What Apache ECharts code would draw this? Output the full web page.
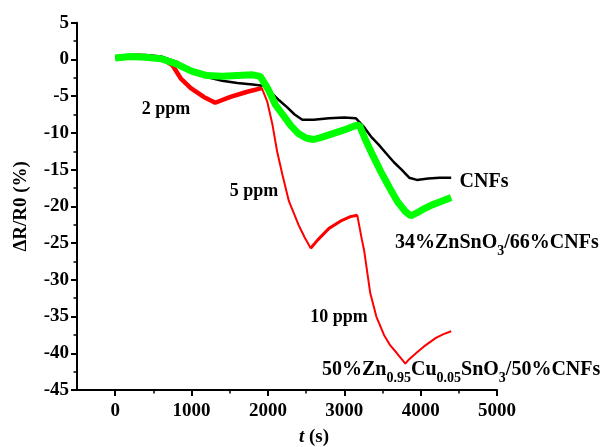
<!DOCTYPE html>
<html><head><meta charset="utf-8">
<script src="https://cdn.jsdelivr.net/npm/echarts@6/dist/echarts.min.js"></script>
<style>html,body{margin:0;padding:0;background:#fff}#c{width:606px;height:447px}</style>
</head><body><div id="c"></div>
<script>
// ---- data ----
const xTicks = [0, 1000, 2000, 3000, 4000, 5000];
const xMinorTicks = [500, 1500, 2500, 3500, 4500];

const cnfsT = [0,200,400,600,800,1000,1200,1400,1600,1800,1950,2050,2150,2250,2350,2450,2600,2800,3000,3150,3250,3350,3450,3550,3650,3750,3850,3950,4100,4250,4400];
const cnfsV = [0.3,0.6,0.6,0.4,-0.3,-1.5,-2.4,-2.9,-3.2,-3.4,-3.6,-4.6,-5.6,-6.5,-7.5,-8.2,-8.2,-8.0,-7.9,-8.0,-9.1,-10.5,-11.6,-12.8,-14.0,-15.0,-16.1,-16.4,-16.2,-16.1,-16.1];

const znT = [0,200,400,600,800,1000,1200,1400,1600,1800,1900,2000,2100,2200,2300,2400,2500,2600,2700,2850,3000,3150,3200,3280,3380,3480,3600,3700,3800,3870,3950,4050,4150,4250,4400];
const znV = [0.2,0.4,0.3,0.1,-0.6,-1.6,-2.2,-2.3,-2.2,-2.1,-2.3,-4.0,-6.2,-7.6,-9.0,-10.1,-10.7,-10.9,-10.6,-10.1,-9.6,-9.0,-9.0,-11.0,-13.2,-15.3,-17.6,-19.4,-20.7,-21.3,-20.9,-20.3,-19.8,-19.4,-18.8];

const cuT = [0,300,600,750,860,990,1160,1310,1510,1730,1920,1990,2060,2120,2190,2275,2400,2480,2560,2650,2800,2970,3080,3170,3230,3260,3340,3420,3520,3600,3690,3800,3850,3950,4040,4200,4300,4400];
const cuV = [0.3,0.5,0.2,-0.8,-2.6,-3.9,-5.1,-5.9,-5.1,-4.4,-3.9,-5.7,-8.9,-12.5,-15.7,-19.3,-22.5,-24.2,-25.7,-24.6,-23.0,-21.9,-21.4,-21.2,-24.5,-26.0,-31.8,-35.0,-37.5,-38.9,-40.0,-41.4,-40.8,-39.9,-39.1,-37.9,-37.4,-37.0];

const FONT = "'Liberation Serif','Times New Roman',serif";

function pairs(t, v) { return t.map((x, i) => [x, v[i]]); }
function within(t, v, a, b) { return t.map((x, i) => (x >= a && x <= b) ? [x, v[i]] : [x, null]); }

const chart = echarts.init(document.getElementById('c'), null, {renderer: 'canvas'});

const txt = (s, x, y, size) => ({
  type: 'text', x: x, y: y, z: 100,
  style: {text: s, fill: '#000', font: 'bold ' + size + 'px ' + FONT, align: 'center', verticalAlign: 'middle'}
});
const richM = {fontFamily: FONT, fontWeight: 'bold', fontSize: 20, lineHeight: 20, verticalAlign: 'top', fill: '#000', color: '#000'};
const richS = {fontFamily: FONT, fontWeight: 'bold', fontSize: 14, lineHeight: 14, padding: [11, 0, 0, 0], verticalAlign: 'top', fill: '#000', color: '#000'};
const plain = v => String(v);

chart.setOption({
  animation: false,
  backgroundColor: '#fff',
  grid: {left: 77, right: 109, top: 22.7, bottom: 57, outerBoundsMode: 'none'},
  xAxis: [{
    type: 'value', min: -500, max: 5000,
    axisLine: {show: true, onZero: false, lineStyle: {color: '#000', width: 2}},
    axisTick: {show: true, inside: false, length: 6, lineStyle: {color: '#000', width: 2}, customValues: xTicks},
    axisLabel: {customValues: xTicks, formatter: plain, margin: 12, color: '#000', fontSize: 19, fontWeight: 'bold', fontFamily: FONT},
    splitLine: {show: false}
  }, {
    type: 'value', min: -500, max: 5000, position: 'bottom',
    axisLine: {show: false, onZero: false},
    axisTick: {show: true, inside: false, length: 3.5, lineStyle: {color: '#000', width: 1.5}, customValues: xMinorTicks},
    axisLabel: {show: false},
    splitLine: {show: false}
  }],
  yAxis: {
    type: 'value', min: -45, max: 5, interval: 5,
    name: 'ΔR/R0 (%)', nameLocation: 'middle', nameRotate: 90, nameGap: 46,
    nameTextStyle: {color: '#000', fontSize: 19, fontWeight: 'bold', fontFamily: FONT},
    axisLine: {show: true, onZero: false, lineStyle: {color: '#000', width: 2}},
    axisTick: {show: true, inside: false, length: 6, lineStyle: {color: '#000', width: 2}},
    minorTick: {show: true, splitNumber: 2, length: 3.5, lineStyle: {color: '#000', width: 1.5}},
    axisLabel: {formatter: plain, margin: 8, color: '#000', fontSize: 19, fontWeight: 'bold', fontFamily: FONT},
    splitLine: {show: false}
  },
  graphic: [
    txt('2 ppm', 166, 109, 18),
    txt('5 ppm', 254, 191, 18),
    txt('10 ppm', 339, 317, 18),
    txt('CNFs', 484, 182, 20),
    {type: 'text', x: 395, y: 233, z: 100, style: {
      text: '{m|34%ZnSnO}{s|3}{m|/66%CNFs}', rich: {m: richM, s: richS}, fill: '#000'}},
    {type: 'text', x: 322, y: 360, z: 100, style: {
      text: '{m|50%Zn}{s|0.95}{m|Cu}{s|0.05}{m|SnO}{s|3}{m|/50%CNFs}', rich: {m: richM, s: richS}, fill: '#000'}},
    {type: 'text', x: 314, y: 437, z: 100, style: {
      text: '{i|t} {n|(s)}', align: 'center', verticalAlign: 'middle',
      rich: {
        i: {fontFamily: FONT, fontWeight: 'bold', fontStyle: 'italic', fontSize: 19, fill: '#000'},
        n: {fontFamily: FONT, fontWeight: 'bold', fontSize: 19, fill: '#000'}
      }, font: 'bold 19px ' + FONT, fill: '#000'}}
  ],
  series: [
    {name: 'red', type: 'line', showSymbol: false, data: pairs(cuT, cuV), lineStyle: {color: '#ff0000', width: 2}, z: 2},
    {name: 'redNoise1', type: 'line', showSymbol: false, connectNulls: false, data: within(cuT, cuV, 0, 1920), lineStyle: {color: '#ff0000', width: 4.5}, z: 2},
    {name: 'redNoise2', type: 'line', showSymbol: false, connectNulls: false, data: within(cuT, cuV, 2560, 3170), lineStyle: {color: '#ff0000', width: 3}, z: 2},
    {name: 'CNFs', type: 'line', showSymbol: false, data: pairs(cnfsT, cnfsV), lineStyle: {color: '#000', width: 2.5}, z: 3},
    {name: 'zn', type: 'line', showSymbol: false, data: pairs(znT, znV), lineStyle: {color: '#00ff00', width: 7}, z: 4}
  ]
});
</script></body></html>
